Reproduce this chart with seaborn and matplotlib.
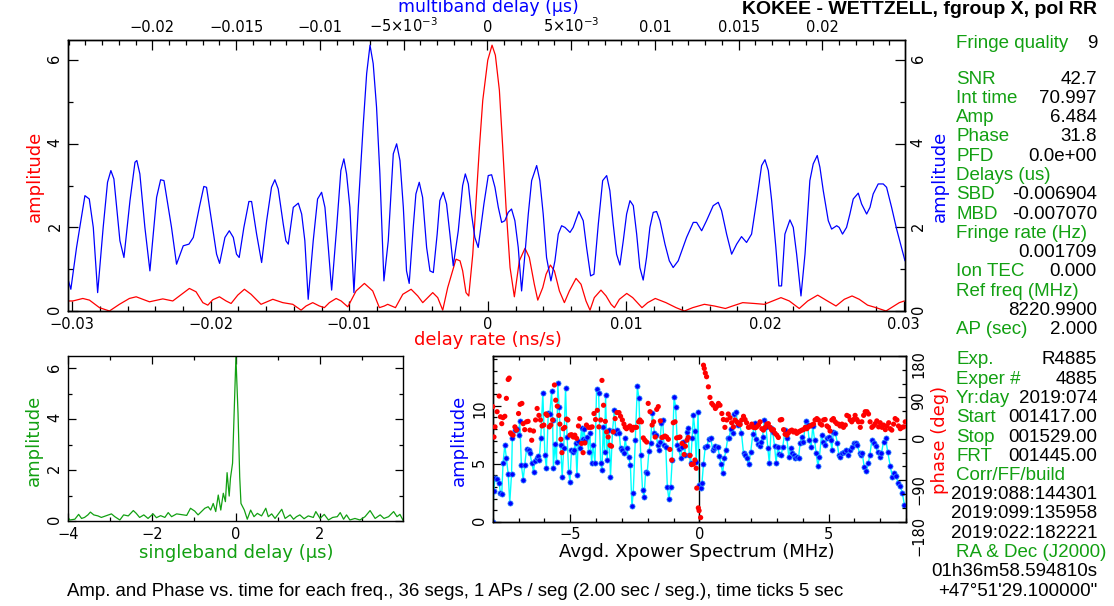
import numpy as np
import pandas as pd
import matplotlib
matplotlib.use("Agg")
import matplotlib.pyplot as plt
from matplotlib.ticker import MultipleLocator, FixedLocator, FixedFormatter
import seaborn as sns

# ---------------- DATA ----------------
# multiband delay function (x in ns, i.e. 1e-3 us) -> blue
mbd_ns = [-25.04,-24.87,-24.53,-24.03,-23.77,-23.53,-23.27,-22.94,-22.68,-22.48,-22.30,-21.94,-21.70,-21.34,-21.04,-20.93,-20.75,-20.45,-20.15,-19.75,-19.51,-19.31,-18.86,-18.56,-18.16,-17.82,-17.56,-17.20,-16.93,-16.77,-16.47,-16.17,-15.99,-15.67,-15.41,-15.17,-14.98,-14.82,-14.54,-14.24,-14.08,-13.78,-13.48,-13.18,-12.89,-12.69,-12.49,-12.19,-12.03,-11.89,-11.59,-11.29,-11.09,-10.90,-10.70,-10.40,-10.14,-9.90,-9.70,-9.50,-9.30,-9.00,-8.75,-8.57,-8.41,-8.21,-7.97,-7.71,-7.41,-7.21,-7.01,-6.82,-6.62,-6.42,-6.18,-5.92,-5.62,-5.42,-5.22,-5.02,-4.83,-4.67,-4.43,-4.27,-4.07,-3.87,-3.63,-3.43,-3.23,-3.00,-2.84,-2.64,-2.44,-2.24,-2.04,-1.74,-1.48,-1.32,-1.14,-0.95,-0.75,-0.55,-0.21,0.05,0.25,0.45,0.65,0.85,1.04,1.24,1.44,1.64,1.84,2.04,2.24,2.44,2.64,2.94,3.13,3.33,3.53,3.79,4.03,4.23,4.43,4.63,4.93,5.12,5.46,5.72,5.92,6.16,6.36,6.62,6.88,7.12,7.31,7.51,7.71,7.91,8.11,8.31,8.51,8.71,8.91,9.10,9.30,9.50,9.70,9.90,10.10,10.30,10.60,10.86,11.09,11.39,11.89,12.29,12.49,12.79,13.08,13.48,13.78,13.98,14.28,14.58,14.88,15.17,15.47,15.77,16.07,16.37,16.57,16.77,16.97,17.22,17.40,17.56,17.76,18.06,18.26,18.46,18.72,18.96,19.25,19.45,19.69,19.85,20.05,20.35,20.55,20.85,21.00,21.20,21.44,21.64,21.84,22.14,22.34,22.64,22.84,23.03,23.33,23.63,23.83,24.13,24.43,24.67,24.93]
mbd_amp = [0.76,0.52,1.52,2.76,2.68,2.0,0.44,2.0,3.08,3.36,3.16,1.68,1.28,2.64,3.56,3.6,3.28,2.0,0.96,2.72,3.14,3.12,2.0,1.12,1.56,1.6,1.76,2.48,2.98,2.96,2.16,1.36,1.14,1.76,1.92,1.76,1.36,1.28,2.0,2.62,2.62,1.84,1.16,2.16,2.96,3.14,2.92,2.08,1.68,1.6,2.48,2.58,2.32,1.68,0.28,1.68,2.68,2.84,2.48,1.52,0.5,2.0,3.36,3.64,3.28,2.48,0.44,2.48,4.48,5.68,6.36,5.92,4.88,3.28,0.72,1.68,3.76,4.0,3.6,2.48,0.96,0.66,2.0,2.8,3.08,2.72,1.52,0.96,0.92,1.84,2.64,2.84,2.56,1.84,1.08,1.92,3.0,3.28,3.04,2.32,1.76,1.52,2.56,3.24,3.26,2.96,2.48,2.12,2.16,2.36,2.44,2.16,1.52,0.48,1.36,2.32,3.12,3.48,3.12,2.32,1.28,0.72,1.2,1.84,2.04,2.0,1.88,2.0,2.38,2.16,1.52,0.84,0.88,2.08,3.12,3.24,2.88,2.08,1.36,1.1,1.68,2.32,2.64,2.52,1.84,1.04,0.74,1.28,2.0,2.36,2.38,2.16,1.6,1.2,1.04,1.2,1.76,2.12,2.12,1.92,2.16,2.52,2.6,2.4,1.84,1.36,1.6,1.78,1.64,1.84,2.64,3.48,3.62,3.36,2.64,1.52,0.6,0.6,1.84,2.18,2.0,1.36,0.36,1.36,3.12,3.52,3.72,3.44,2.88,2.16,1.96,2.04,2.0,1.84,2.0,2.32,2.68,2.82,2.56,2.32,2.48,2.8,3.04,3.04,2.96,2.48,1.96,1.6,1.2]

# delay rate function (x in ps/s, i.e. 1e-3 ns/s) -> red
rate_ps = [-30.34,-29.95,-29.23,-28.75,-28.03,-27.31,-26.59,-25.87,-25.38,-24.90,-24.42,-23.46,-22.74,-22.26,-21.54,-21.06,-20.57,-20.21,-19.85,-19.37,-18.89,-18.53,-18.05,-17.57,-17.09,-16.37,-15.52,-14.80,-14.08,-13.48,-13.12,-12.64,-12.16,-11.80,-11.44,-10.95,-10.59,-10.11,-9.51,-8.91,-8.31,-7.83,-7.47,-7.23,-6.67,-6.14,-5.54,-5.06,-4.70,-3.98,-3.62,-3.26,-2.90,-2.30,-2.01,-1.82,-1.58,-1.38,-1.09,-0.61,-0.37,-0.01,0.30,0.54,0.83,1.07,1.31,1.60,1.91,2.27,2.68,2.99,3.35,3.60,3.96,4.20,4.51,4.80,5.16,5.52,5.88,6.36,6.72,7.08,7.37,7.68,8.16,8.53,8.89,9.13,9.49,10.02,10.45,11.12,11.53,12.08,12.85,13.58,14.18,14.78,15.62,16.34,17.14,17.66,18.39,19.23,19.95,20.55,21.15,21.75,22.47,23.08,23.80,24.40,25.12,25.72,26.28,26.80,27.40,28.01,28.73,29.21,29.69,30.05]
rate_amp = [0.24,0.24,0.30,0.26,0.08,0.0,0.16,0.30,0.34,0.28,0.22,0.29,0.24,0.36,0.54,0.46,0.20,0.14,0.27,0.34,0.24,0.18,0.38,0.52,0.40,0.16,0.28,0.20,0.16,0.02,0.12,0.20,0.12,0.08,0.20,0.30,0.24,0.10,0.48,0.66,0.48,0.08,0.12,0.16,0.08,0.40,0.52,0.36,0.20,0.44,0.32,0.02,0.56,1.24,1.20,0.96,0.44,0.36,1.36,3.92,5.04,6.0,6.36,6.12,5.28,3.92,2.48,1.04,0.34,1.20,1.50,1.28,0.64,0.26,0.56,0.88,1.10,0.96,0.48,0.20,0.48,0.78,0.64,0.24,0.02,0.32,0.50,0.36,0.16,0.08,0.28,0.42,0.32,0.08,0.20,0.30,0.20,0.08,0.0,0.08,0.16,0.12,0.06,0.12,0.20,0.18,0.16,0.24,0.32,0.24,0.06,0.24,0.38,0.26,0.12,0.28,0.36,0.28,0.14,0.08,0.0,0.10,0.20,0.24]

# singleband delay function (us) -> green
sbd_us = [-4.0,-3.95,-3.83,-3.74,-3.67,-3.60,-3.52,-3.46,-3.38,-3.28,-3.20,-3.08,-2.96,-2.88,-2.76,-2.67,-2.56,-2.44,-2.37,-2.29,-2.19,-2.09,-1.97,-1.89,-1.79,-1.69,-1.61,-1.53,-1.41,-1.29,-1.17,-1.08,-0.98,-0.90,-0.82,-0.74,-0.66,-0.60,-0.54,-0.48,-0.42,-0.36,-0.30,-0.25,-0.21,-0.16,-0.13,-0.08,-0.03,0.0,0.05,0.09,0.12,0.20,0.27,0.35,0.43,0.51,0.61,0.71,0.77,0.85,0.93,1.01,1.09,1.17,1.29,1.37,1.44,1.52,1.62,1.72,1.84,1.90,2.00,2.10,2.20,2.30,2.41,2.48,2.56,2.63,2.71,2.83,2.95,3.07,3.19,3.31,3.43,3.52,3.63,3.75,3.83,3.90,3.98]
sbd_amp = [0.17,0.04,0.07,0.26,0.10,0.14,0.24,0.35,0.24,0.20,0.14,0.21,0.28,0.17,0.04,0.24,0.20,0.41,0.30,0.14,0.24,0.10,0.28,0.13,0.21,0.14,0.33,0.17,0.28,0.25,0.22,0.50,0.39,0.24,0.37,0.50,0.56,0.43,0.69,0.37,1.02,0.43,1.09,0.76,1.90,0.98,1.68,2.27,4.89,6.45,4.23,1.74,0.69,0.43,0.07,0.43,0.17,0.30,0.20,0.50,0.17,0.28,0.10,0.28,0.46,0.10,0.24,0.07,0.17,0.24,0.09,0.20,0.14,0.37,0.10,0.26,0.04,0.14,0.17,0.33,0.07,0.24,0.04,0.10,0.04,0.17,0.41,0.10,0.24,0.10,0.17,0.37,0.17,0.26,0.01]

# averaged cross-power spectrum: (MHz, amplitude)
xpower_amp = [(-8.0,0.0),(-7.96,2.68),(-7.91,3.75),(-7.83,3.66),(-7.75,3.37),(-7.70,2.45),(-7.65,2.36),(-7.60,5.04),(-7.53,6.63),(-7.47,5.48),(-7.40,4.12),(-7.34,1.64),(-7.27,4.12),(-7.24,7.20),(-7.14,7.93),(-7.05,7.98),(-7.00,7.49),(-6.95,8.65),(-6.89,4.90),(-6.82,3.60),(-6.76,4.90),(-6.69,6.28),(-6.61,6.20),(-6.56,5.91),(-6.49,5.10),(-6.42,4.32),(-6.37,5.27),(-6.30,5.48),(-6.25,5.68),(-6.20,5.33),(-6.14,7.20),(-6.06,11.10),(-5.98,5.76),(-5.92,4.61),(-5.85,9.37),(-5.79,9.31),(-5.72,11.24),(-5.68,8.79),(-5.65,4.67),(-5.59,6.71),(-5.53,5.19),(-5.48,11.96),(-5.43,9.94),(-5.37,6.63),(-5.31,3.89),(-5.25,6.34),(-5.18,11.53),(-5.12,7.35),(-5.06,4.32),(-5.01,3.46),(-4.95,6.20),(-4.91,6.05),(-4.86,6.20),(-4.79,6.77),(-4.74,4.03),(-4.69,6.97),(-4.63,6.34),(-4.56,8.07),(-4.52,7.12),(-4.47,7.98),(-4.41,7.06),(-4.34,7.35),(-4.29,6.05),(-4.24,7.64),(-4.17,5.04),(-4.12,6.63),(-4.04,5.04),(-3.98,11.44),(-3.90,11.10),(-3.82,5.04),(-3.77,4.47),(-3.72,8.21),(-3.67,6.05),(-3.63,10.95),(-3.57,5.33),(-3.50,7.93),(-3.44,3.89),(-3.36,7.87),(-3.29,9.60),(-3.23,7.69),(-3.17,7.93),(-3.10,7.64),(-3.05,6.34),(-2.98,6.20),(-2.92,5.91),(-2.87,7.20),(-2.82,6.34),(-2.74,5.62),(-2.67,4.90),(-2.61,1.35),(-2.56,2.45),(-2.48,7.06),(-2.40,11.67),(-2.34,10.66),(-2.27,5.76),(-2.20,2.74),(-2.14,2.16),(-2.08,4.32),(-2.02,4.18),(-1.95,6.14),(-1.89,6.77),(-1.82,9.37),(-1.74,7.64),(-1.67,7.49),(-1.61,6.63),(-1.58,6.20),(-1.52,6.92),(-1.47,8.50),(-1.42,8.79),(-1.37,6.63),(-1.30,6.48),(-1.24,3.03),(-1.18,1.93),(-1.11,3.03),(-1.05,5.33),(-0.98,10.75),(-0.92,9.94),(-0.85,6.63),(-0.80,6.25),(-0.72,5.48),(-0.67,6.43),(-0.62,6.89),(-0.56,5.76),(-0.49,7.78),(-0.44,8.07),(-0.39,5.76),(-0.34,5.04),(-0.28,7.20),(-0.23,9.19),(-0.17,7.84),(-0.12,5.19),(-0.05,9.51),(0.0,3.2),(0.05,2.9),(0.10,3.3),(0.16,4.99),(0.23,6.48),(0.30,6.57),(0.36,7.15),(0.44,7.20),(0.52,6.20),(0.57,6.40),(0.62,6.54),(0.71,6.48),(0.78,5.68),(0.84,4.96),(0.90,4.18),(0.97,5.48),(1.03,6.20),(1.10,7.20),(1.16,7.26),(1.21,7.98),(1.29,7.64),(1.36,9.28),(1.42,9.45),(1.49,8.36),(1.55,8.50),(1.63,7.64),(1.71,5.91),(1.77,5.76),(1.83,5.48),(1.91,4.99),(1.99,6.05),(2.07,7.58),(2.14,8.50),(2.21,7.12),(2.26,6.71),(2.33,6.54),(2.39,6.92),(2.45,7.35),(2.52,8.79),(2.58,8.21),(2.65,6.34),(2.71,5.04),(2.78,8.07),(2.84,7.78),(2.91,6.54),(2.97,5.10),(3.04,6.48),(3.10,5.85),(3.17,5.76),(3.23,6.48),(3.32,7.93),(3.39,7.20),(3.46,5.62),(3.53,6.34),(3.59,5.91),(3.66,5.76),(3.72,5.48),(3.77,5.62),(3.84,5.48),(3.90,6.77),(3.97,7.35),(4.03,6.92),(4.11,8.65),(4.19,8.36),(4.25,7.06),(4.33,6.48),(4.39,8.27),(4.46,7.06),(4.52,5.91),(4.59,4.81),(4.65,5.62),(4.73,7.49),(4.79,6.92),(4.87,6.63),(4.96,7.26),(5.01,7.35),(5.08,7.06),(5.13,6.20),(5.19,7.78),(5.27,7.69),(5.34,6.77),(5.40,5.76),(5.45,5.62),(5.53,5.91),(5.61,6.05),(5.68,6.20),(5.76,5.76),(5.84,6.20),(5.92,6.48),(5.97,6.77),(6.05,6.77),(6.12,6.63),(6.20,5.91),(6.25,5.76),(6.30,5.97),(6.38,4.76),(6.46,4.38),(6.54,5.04),(6.60,5.76),(6.68,7.06),(6.76,6.77),(6.82,6.54),(6.90,6.05),(6.98,5.62),(7.05,5.91),(7.13,6.92),(7.21,7.20),(7.29,6.05),(7.39,4.81),(7.47,3.89),(7.55,4.24),(7.62,3.95),(7.70,3.31),(7.78,3.10),(7.86,2.45),(7.94,1.44)]

# averaged cross-power spectrum: (MHz, phase in degrees)
xpower_phase = [(-8.0,70),(-7.95,4),(-7.91,26),(-7.83,59),(-7.75,93),(-7.70,48),(-7.65,33),(-7.60,46),(-7.53,49),(-7.47,88),(-7.40,129),(-7.36,132),(-7.31,13),(-7.27,10),(-7.21,8),(-7.14,26),(-7.08,19),(-7.00,55),(-6.94,75),(-6.87,77),(-6.82,33),(-6.76,20),(-6.69,37),(-6.63,38),(-6.56,19),(-6.49,-3),(-6.42,17),(-6.34,41),(-6.28,66),(-6.21,51),(-6.15,41),(-6.09,28),(-6.02,30),(-5.94,54),(-5.89,51),(-5.81,26),(-5.75,30),(-5.68,41),(-5.61,117),(-5.56,84),(-5.50,71),(-5.44,51),(-5.40,32),(-5.36,-1),(-5.32,-30),(-5.27,22),(-5.21,25),(-5.14,43),(-5.09,41),(-5.01,8),(-4.95,9),(-4.88,4),(-4.82,8),(-4.75,1),(-4.68,28),(-4.63,44),(-4.56,-10),(-4.50,-30),(-4.43,-9),(-4.37,30),(-4.29,25),(-4.21,25),(-4.15,26),(-4.08,55),(-4.02,42),(-3.95,62),(-3.89,26),(-3.82,41),(-3.77,127),(-3.71,73),(-3.64,38),(-3.59,15),(-3.53,4),(-3.46,-14),(-3.40,-16),(-3.33,15),(-3.26,44),(-3.19,57),(-3.11,57),(-3.05,49),(-2.98,41),(-2.92,32),(-2.87,25),(-2.82,22),(-2.74,25),(-2.69,28),(-2.61,19),(-2.56,25),(-2.49,25),(-2.43,25),(-2.35,37),(-2.30,41),(-2.24,37),(-2.17,2),(-2.11,-3),(-2.04,-7),(-1.98,77),(-1.91,59),(-1.83,30),(-1.77,37),(-1.71,4),(-1.65,64),(-1.59,70),(-1.51,39),(-1.45,3),(-1.40,4),(-1.33,6),(-1.27,4),(-1.20,-1),(-1.14,-23),(-1.07,-46),(-1.01,35),(-0.94,37),(-0.88,2),(-0.80,3),(-0.75,4),(-0.67,-10),(-0.59,-34),(-0.54,-16),(-0.48,-3),(-0.43,3),(-0.36,-36),(-0.30,-56),(-0.23,-55),(-0.17,-46),(-0.12,-64),(-0.10,-107),(-0.04,-150),(-0.01,-156),(0.05,-171),(0.16,160),(0.19,153),(0.23,143),(0.28,135),(0.35,113),(0.41,90),(0.48,77),(0.54,73),(0.62,66),(0.67,70),(0.74,77),(0.80,73),(0.87,55),(0.93,42),(0.99,25),(1.06,41),(1.12,54),(1.19,46),(1.25,35),(1.32,26),(1.38,41),(1.45,37),(1.51,33),(1.58,31),(1.64,41),(1.71,49),(1.77,42),(1.83,35),(1.90,25),(1.96,26),(2.03,32),(2.09,25),(2.16,24),(2.22,26),(2.29,30),(2.35,37),(2.42,22),(2.48,19),(2.55,25),(2.61,32),(2.67,33),(2.74,25),(2.80,19),(2.87,20),(2.93,12),(3.00,8),(3.06,3),(3.13,41),(3.19,42),(3.26,20),(3.32,10),(3.39,8),(3.45,13),(3.51,17),(3.58,19),(3.64,15),(3.71,17),(3.77,12),(3.84,15),(3.90,17),(3.97,19),(4.03,20),(4.10,25),(4.16,22),(4.22,26),(4.29,28),(4.35,30),(4.42,32),(4.48,41),(4.55,44),(4.61,41),(4.68,33),(4.74,30),(4.81,41),(4.87,42),(4.94,28),(5.00,25),(5.06,17),(5.13,41),(5.19,44),(5.26,37),(5.32,33),(5.39,32),(5.45,28),(5.52,32),(5.58,25),(5.65,30),(5.71,51),(5.78,49),(5.84,41),(5.90,37),(5.97,42),(6.03,51),(6.10,42),(6.16,37),(6.23,25),(6.29,37),(6.36,51),(6.42,59),(6.49,59),(6.55,54),(6.61,37),(6.68,25),(6.74,28),(6.81,33),(6.87,39),(6.94,26),(7.00,35),(7.07,25),(7.13,30),(7.20,20),(7.26,28),(7.33,35),(7.39,22),(7.45,19),(7.52,32),(7.58,44),(7.65,41),(7.71,28),(7.78,22),(7.84,25),(7.91,26),(7.97,37)]
dc_line = [(0.0, 0.0), (0.0, 6.3)]

max_amp = 6.484
xpower_ymax = 14.3

rate_ticks = [-0.03, -0.02, -0.01, 0.0, 0.01, 0.02, 0.03]
rate_tick_labels = ["\u22120.03", "\u22120.02", "\u22120.01", "0", "0.01", "0.02", "0.03"]
mbd_ticks = [-0.02, -0.015, -0.01, -0.005, 0.0, 0.005, 0.01, 0.015, 0.02]
mbd_tick_labels = ["\u22120.02", "\u22120.015", "\u22120.01", "\u22125\u00d710$^{\u22123}$", "0",
                   "5\u00d710$^{\u22123}$", "0.01", "0.015", "0.02"]

title = "KOKEE - WETTZELL, fgroup X, pol RR"
info_head = ("Fringe quality", "9")
info_block1 = [("SNR", "42.7"), ("Int time", "70.997"), ("Amp", "6.484"), ("Phase", "31.8"),
               ("PFD", "0.0e+00"), ("Delays (us)", ""), ("SBD", "-0.006904"), ("MBD", "-0.007070"),
               ("Fringe rate (Hz)", ""), ("", "0.001709"), ("Ion TEC", "0.000"),
               ("Ref freq (MHz)", ""), ("", "8220.9900"), ("AP (sec)", "2.000")]
info_block2 = [("Exp.", "R4885"), ("Exper #", "4885"), ("Yr:day", "2019:074"),
               ("Start", "001417.00"), ("Stop", "001529.00"), ("FRT", "001445.00"),
               ("Corr/FF/build", ""), ("", "2019:088:144301"), ("", "2019:099:135958"),
               ("", "2019:022:182221"), ("RA & Dec (J2000)", ""), ("", "01h36m58.594810s"),
               ("", "+47\u00b051'29.100000\"")]
footer = "Amp. and Phase vs. time for each freq., 36 segs, 1 APs / seg (2.00 sec / seg.), time ticks 5 sec"

# ---------------- STYLE ----------------
sns.set_theme(style="ticks")
plt.rcParams['font.family'] = ['DejaVu Sans']
plt.rcParams['axes.linewidth'] = 1.0
plt.rcParams['axes.edgecolor'] = 'black'

GREEN = '#12a012'
W, H = 1114, 606
fig = plt.figure(figsize=(W / 100, H / 100), dpi=100)
fig.patch.set_facecolor('white')


def rect(x0, y0, x1, y1):
    return [x0 / W, 1 - y1 / H, (x1 - x0) / W, (y1 - y0) / H]


def fx(x):
    return x / W


def fy(y):
    return 1 - y / H


TICK = dict(which='both', direction='in', colors='black', labelsize=10.5)

# ---------------- TOP PANEL ----------------
ax1 = fig.add_axes(rect(68, 40, 905, 311))
df_rate = pd.DataFrame({"rate": np.array(rate_ps) / 1000.0, "amp": rate_amp})
sns.lineplot(data=df_rate, x="rate", y="amp", ax=ax1, color='red', lw=0.9,
             sort=False, estimator=None)
ax1.set_xlim(-0.0303, 0.0301)
ax1.set_ylim(0, max_amp)
ax1.xaxis.set_major_locator(FixedLocator(rate_ticks))
ax1.xaxis.set_major_formatter(FixedFormatter(rate_tick_labels))
ax1.xaxis.set_minor_locator(MultipleLocator(0.002))
ax1.yaxis.set_major_locator(MultipleLocator(2))
ax1.yaxis.set_minor_locator(MultipleLocator(1))
ax1.set_xlabel("")
ax1.set_ylabel("")

axm = ax1.twiny()
df_mbd = pd.DataFrame({"mbd": np.array(mbd_ns) / 1000.0, "amp": mbd_amp})
sns.lineplot(data=df_mbd, x="mbd", y="amp", ax=axm, color='blue', lw=0.9,
             sort=False, estimator=None)
axm.set_xlim(-0.02504, 0.02493)
ax1.set_ylim(0, max_amp)
axm.xaxis.set_major_locator(FixedLocator(mbd_ticks))
axm.xaxis.set_major_formatter(FixedFormatter(mbd_tick_labels))
axm.xaxis.set_minor_locator(MultipleLocator(0.001))
axm.set_xlabel("")
axm.set_ylabel("")

ax1.tick_params(axis='x', **TICK, top=False, bottom=True, pad=4)
ax1.tick_params(axis='y', **TICK, left=True, right=True, labelleft=True, labelright=True,
                labelrotation=90, pad=4)
axm.tick_params(axis='x', **TICK, top=True, bottom=False, pad=3.5)
for a in (ax1, axm):
    a.tick_params(which='major', length=7, width=0.9)
    a.tick_params(which='minor', length=3.5, width=0.9)

fig.text(fx(35), fy(176), "amplitude", color='red', rotation=90, ha='center', va='center', fontsize=13)
fig.text(fx(940), fy(176), "amplitude", color='blue', rotation=90, ha='center', va='center', fontsize=13)
fig.text(fx(488), fy(340), "delay rate (ns/s)", color='red', ha='center', va='center', fontsize=13)
fig.text(fx(488), fy(12.5), "multiband delay (\u03bcs)", color='blue', ha='center', va='baseline', fontsize=12.5)

# ---------------- BOTTOM LEFT ----------------
ax3 = fig.add_axes(rect(67.7, 356, 403.3, 521))
df_sbd = pd.DataFrame({"sbd": sbd_us, "amp": sbd_amp})
sns.lineplot(data=df_sbd, x="sbd", y="amp", ax=ax3, color=GREEN, lw=0.9, sort=False, estimator=None)
ax3.set_xlim(-4.0, 3.98)
ax3.set_ylim(0, max_amp)
ax3.xaxis.set_major_locator(MultipleLocator(2))
ax3.xaxis.set_minor_locator(MultipleLocator(1))
ax3.yaxis.set_major_locator(MultipleLocator(2))
ax3.yaxis.set_minor_locator(MultipleLocator(1))
ax3.set_xlabel("")
ax3.set_ylabel("")
ax3.tick_params(axis='x', **TICK, top=True, bottom=True, pad=4)
ax3.tick_params(axis='y', **TICK, left=True, right=True, labelrotation=90, pad=4)
ax3.tick_params(which='major', length=6, width=0.9)
ax3.tick_params(which='minor', length=3, width=0.9)
fig.text(fx(34), fy(440), "amplitude", color=GREEN, rotation=90, ha='center', va='center', fontsize=13)
fig.text(fx(236), fy(553), "singleband delay (\u03bcs)", color=GREEN, ha='center', va='center', fontsize=13)

# ---------------- BOTTOM RIGHT ----------------
ax4 = fig.add_axes(rect(492.7, 356, 906, 521.7))
xa = pd.DataFrame(xpower_amp, columns=["freq", "amp"])
sns.lineplot(data=xa, x="freq", y="amp", ax=ax4, color='#00ffff', lw=1.0, sort=False, estimator=None)
dc = pd.DataFrame(dc_line, columns=["freq", "amp"])
sns.lineplot(data=dc, x="freq", y="amp", ax=ax4, color='black', lw=1.0, sort=False, estimator=None)
sns.scatterplot(data=xa, x="freq", y="amp", ax=ax4, color='#0000ff', s=14,
                edgecolor='#3399ff', linewidth=0.5, zorder=3)
ax4.set_xlim(-8, 8)
ax4.set_ylim(0, xpower_ymax)
ax4.xaxis.set_major_locator(MultipleLocator(5))
ax4.xaxis.set_minor_locator(MultipleLocator(1))
ax4.yaxis.set_major_locator(MultipleLocator(5))
ax4.yaxis.set_minor_locator(MultipleLocator(1))
ax4.set_xlabel("")
ax4.set_ylabel("")

axp = ax4.twinx()
xp = pd.DataFrame(xpower_phase, columns=["freq", "phase"])
sns.scatterplot(data=xp, x="freq", y="phase", ax=axp, color='red', s=14, edgecolor='none', zorder=4)
axp.set_ylim(-180, 180)
axp.set_xlim(-8, 8)
axp.yaxis.set_major_locator(MultipleLocator(90))
axp.yaxis.set_minor_locator(MultipleLocator(30))
axp.set_xlabel("")
axp.set_ylabel("")

ax4.tick_params(axis='x', **TICK, top=True, bottom=True, pad=4)
ax4.tick_params(axis='y', **TICK, left=True, right=False, labelrotation=90, pad=4)
axp.tick_params(axis='y', **TICK, right=True, left=False, labelrotation=90, pad=4)
for a in (ax4, axp):
    a.tick_params(which='major', length=6, width=0.9)
    a.tick_params(which='minor', length=3, width=0.9)

fig.text(fx(459), fy(440), "amplitude", color='blue', rotation=90, ha='center', va='center', fontsize=13)
fig.text(fx(940), fy(440), "phase (deg)", color='red', rotation=90, ha='center', va='center', fontsize=13)
fig.text(fx(697), fy(552), "Avgd. Xpower Spectrum (MHz)", color='black', ha='center', va='center', fontsize=13)

# ---------------- RIGHT TEXT PANEL ----------------
TF = dict(family=['Liberation Sans', 'DejaVu Sans'], fontsize=13.5, va='center')
fig.text(fx(1097), fy(9), title, ha='right', va='center', fontsize=14, fontweight='bold',
         family=['Liberation Sans', 'DejaVu Sans'], color='black')
LX, VX = 956, 1097
fig.text(fx(LX), fy(43), info_head[0], color=GREEN, ha='left', **TF)
fig.text(fx(VX), fy(43), info_head[1], color='black', ha='right', **TF)
for i, (lab, val) in enumerate(info_block1):
    yy = 79 + i * 19.3
    if lab:
        fig.text(fx(LX), fy(yy), lab, color=GREEN, ha='left', **TF)
    if val:
        fig.text(fx(VX), fy(yy), val, color='black', ha='right', **TF)
for i, (lab, val) in enumerate(info_block2):
    yy = 360 + i * 19.25
    if lab:
        fig.text(fx(LX), fy(yy), lab, color=GREEN, ha='left', **TF)
    if val:
        fig.text(fx(VX), fy(yy), val, color='black', ha='right', **TF)

fig.text(fx(67), fy(591), footer, color='black', ha='left',
         family=['Liberation Sans', 'DejaVu Sans'], fontsize=13.4, va='center')

fig.savefig("out.png", dpi=100, facecolor='white')
